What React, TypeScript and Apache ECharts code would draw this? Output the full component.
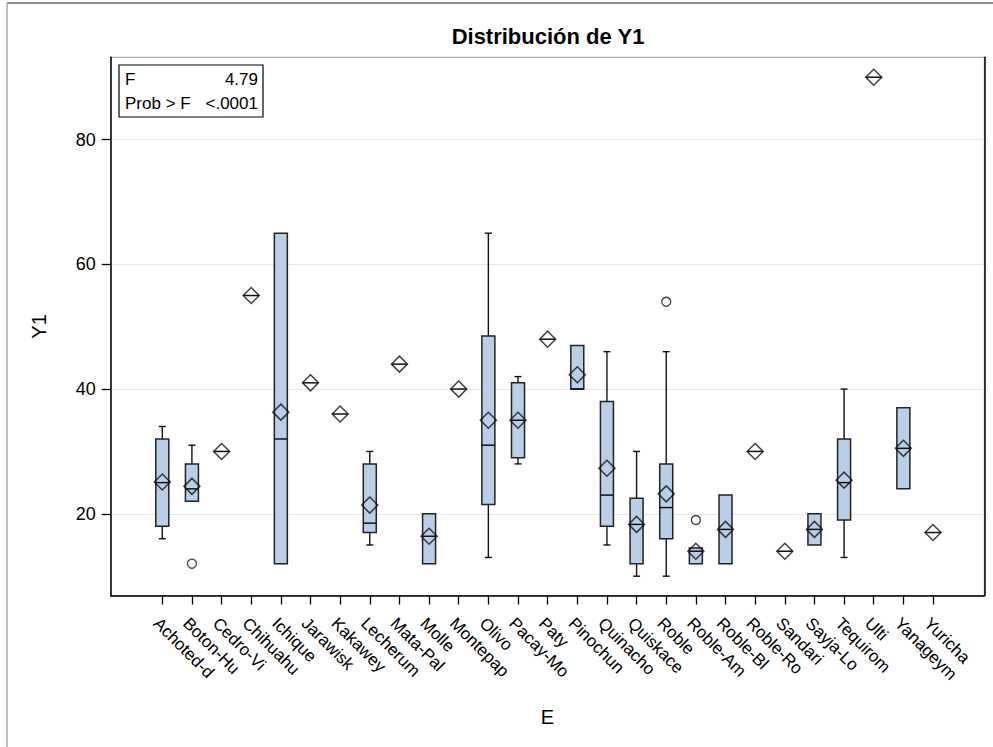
import React, { useEffect, useRef } from "react";
import * as echarts from "echarts";

const categories = [
  "Achoted-d", "Boton-Hu", "Cedro-Vi", "Chihuahu", "Ichique", "Jarawisk", "Kakawey",
  "Lecherum", "Mata-Pal", "Molle", "Montepap", "Olivo", "Pacay-Mo", "Paty", "Pinochun",
  "Quinacho", "Quiskace", "Roble", "Roble-Am", "Roble-Bl", "Roble-Ro", "Sandari",
  "Sayja-Lo", "Tequirom", "Ulti", "Yanageym", "Yuricha",
];
const whiskerLow = [16, 22, 30, 55, 12, 41, 36, 15, 44, 12, 40, 13, 28, 48, 40, 15, 10, 10, 12, 12, 30, 14, 15, 13, 90, 24, 17];
const q1 = [18, 22, 30, 55, 12, 41, 36, 17, 44, 12, 40, 21.5, 29, 48, 40, 18, 12, 16, 12, 12, 30, 14, 15, 19, 90, 24, 17];
const median = [25, 24, 30, 55, 32, 41, 36, 18.5, 44, 16.4, 40, 31, 35, 48, 40, 23, 18.3, 21, 14, 17.5, 30, 14, 17.5, 25, 90, 30.5, 17];
const q3 = [32, 28, 30, 55, 65, 41, 36, 28, 44, 20, 40, 48.5, 41, 48, 47, 38, 22.5, 28, 14.5, 23, 30, 14, 20, 32, 90, 37, 17];
const whiskerHigh = [34, 31, 30, 55, 65, 41, 36, 30, 44, 20, 40, 65, 42, 48, 47, 46, 30, 46, 14.5, 23, 30, 14, 20, 40, 90, 37, 17];
const means = [25.1, 24.4, 30, 55, 36.3, 41, 36, 21.4, 44, 16.4, 40, 35, 35, 48, 42.3, 27.3, 18.3, 23.2, 14, 17.5, 30, 14, 17.5, 25.4, 90, 30.5, 17];
const outlierCats = ["Boton-Hu", "Roble", "Roble-Am"];
const outlierValues = [12, 54, 19];
const yTicks = [20, 40, 60, 80];
const statLabels = ["F", "Prob > F"];
const statValues = ["4.79", "<.0001"];

const FONT = "'Liberation Sans', Arial, Helvetica, sans-serif";

export default function App() {
  const ref = useRef<HTMLDivElement>(null);
  useEffect(() => {
    if (!ref.current) return;
    const chart = echarts.init(ref.current, undefined, { renderer: "svg" });
    const idx = categories.map((_, i) => i);
    const yMin = 6.9;
    const yMax = 93.2;
    const boxData = categories.map((_, i) => [i, whiskerLow[i], q1[i], median[i], q3[i], whiskerHigh[i]]);
    const ink = "#111";
    const option: any = {
      animation: false,
      textStyle: { fontFamily: FONT },
      title: {
        text: "Distribución de Y1",
        left: 548,
        top: 25,
        textAlign: "center",
        padding: 0,
        textStyle: { fontSize: 22, fontWeight: "bold", color: "#000", fontFamily: FONT },
      },
      grid: {
        left: 110.7,
        top: 57.3,
        right: 8.7,
        bottom: 151.5,
        show: true,
        borderColor: "#999",
        borderWidth: 1,
        backgroundColor: "transparent",
      },
      xAxis: [
        {
          type: "value",
          min: -1.74,
          max: 27.73,
          position: "bottom",
          name: "E",
          nameLocation: "middle",
          nameGap: 111,
          nameTextStyle: { fontSize: 20, color: "#000", fontFamily: FONT },
          axisLine: { show: true, onZero: false, lineStyle: { color: "#000", width: 1.5 } },
          axisTick: { show: true, customValues: idx, length: 9, lineStyle: { color: "#000", width: 1.3 } },
          axisLabel: {
            customValues: idx,
            formatter: (v: number) => categories[Math.round(v)] ?? "",
            rotate: -45,
            align: "left",
            verticalAlign: "top",
            margin: 19,
            fontSize: 17,
            color: "#000",
            fontFamily: FONT,
          },
          splitLine: { show: false },
        },
      ],
      yAxis: [
        {
          type: "value",
          min: yMin,
          max: yMax,
          position: "left",
          name: "Y1",
          nameLocation: "middle",
          nameGap: 62,
          nameTextStyle: { fontSize: 20, color: "#000", fontFamily: FONT },
          axisLine: { show: true, onZero: false, lineStyle: { color: "#000", width: 1.5 } },
          axisTick: { show: true, customValues: yTicks, length: 9, lineStyle: { color: "#000", width: 1.3 } },
          axisLabel: { customValues: yTicks, margin: 15, fontSize: 18, color: "#000", fontFamily: FONT },
          splitLine: { show: true, lineStyle: { color: "#e6e6e6", width: 1 } },
        },
        {
          type: "value",
          min: yMin,
          max: yMax,
          position: "right",
          axisLine: { show: true, onZero: false, lineStyle: { color: "#000", width: 1.5 } },
          axisTick: { show: false },
          axisLabel: { show: false },
          splitLine: { show: false },
        },
      ],
      series: [
        {
          type: "custom",
          xAxisIndex: 0,
          yAxisIndex: 0,
          data: boxData,
          encode: { x: 0, y: [1, 2, 3, 4, 5] },
          z: 2,
          renderItem: (params: any, api: any) => {
            const i = api.value(0);
            const lo = api.value(1);
            const a = api.value(2);
            const m = api.value(3);
            const b = api.value(4);
            const hi = api.value(5);
            const [cx, yLo] = api.coord([i, lo]);
            const yA = api.coord([i, a])[1];
            const yM = api.coord([i, m])[1];
            const yB = api.coord([i, b])[1];
            const yHi = api.coord([i, hi])[1];
            const hw = 6.5;
            const cap = 3.5;
            const ls = { stroke: ink, lineWidth: 1.4 };
            const children: any[] = [];
            if (hi > b) {
              children.push({ type: "line", shape: { x1: cx, y1: yB, x2: cx, y2: yHi }, style: ls });
              children.push({ type: "line", shape: { x1: cx - cap, y1: yHi, x2: cx + cap, y2: yHi }, style: ls });
            }
            if (lo < a) {
              children.push({ type: "line", shape: { x1: cx, y1: yA, x2: cx, y2: yLo }, style: ls });
              children.push({ type: "line", shape: { x1: cx - cap, y1: yLo, x2: cx + cap, y2: yLo }, style: ls });
            }
            if (b > a) {
              children.push({
                type: "rect",
                shape: { x: cx - hw, y: yB, width: hw * 2, height: yA - yB },
                style: { fill: "#b9cfe7", stroke: "#222", lineWidth: 1.5 },
              });
            }
            const mw = b > a ? hw : 8;
            children.push({ type: "line", shape: { x1: cx - mw, y1: yM, x2: cx + mw, y2: yM }, style: { stroke: ink, lineWidth: 1.5 } });
            return { type: "group", children };
          },
        },
        {
          type: "scatter",
          xAxisIndex: 0,
          yAxisIndex: 0,
          data: means.map((v, i) => [i, v]),
          symbol: "diamond",
          symbolSize: 16,
          z: 5,
          itemStyle: { color: "rgba(0,0,0,0)", borderColor: ink, borderWidth: 1.5 },
          emphasis: { disabled: true },
        },
        {
          type: "scatter",
          xAxisIndex: 0,
          yAxisIndex: 0,
          data: outlierCats.map((c, k) => [categories.indexOf(c), outlierValues[k]]),
          symbol: "circle",
          symbolSize: 9,
          z: 5,
          itemStyle: { color: "rgba(0,0,0,0)", borderColor: ink, borderWidth: 1.3 },
          emphasis: { disabled: true },
        },
      ],
      graphic: [
        { type: "line", shape: { x1: 7, y1: 3, x2: 993, y2: 3 }, style: { stroke: "#666", lineWidth: 1.5 }, silent: true },
        { type: "line", shape: { x1: 7, y1: 3, x2: 7, y2: 747 }, style: { stroke: "#aaa", lineWidth: 1.5 }, silent: true },
        {
          type: "rect",
          shape: { x: 119, y: 65, width: 144, height: 52 },
          style: { fill: "#fff", stroke: "#000", lineWidth: 1.2 },
          z: 10,
          silent: true,
        },
        ...statLabels.map((t, k) => ({
          type: "text",
          x: 125,
          y: 79.5 + k * 23.5,
          z: 11,
          silent: true,
          style: { text: t, fill: "#000", font: `17px ${FONT}`, textAlign: "left", textVerticalAlign: "middle" },
        })),
        ...statValues.map((t, k) => ({
          type: "text",
          x: 258,
          y: 79.5 + k * 23.5,
          z: 11,
          silent: true,
          style: { text: t, fill: "#000", font: `17px ${FONT}`, textAlign: "right", textVerticalAlign: "middle" },
        })),
      ],
    };
    chart.setOption(option);
    return () => chart.dispose();
  }, []);
  return <div ref={ref} style={{ position: "fixed", left: 0, top: 0, width: 993, height: 747, background: "#fff" }} />;
}
